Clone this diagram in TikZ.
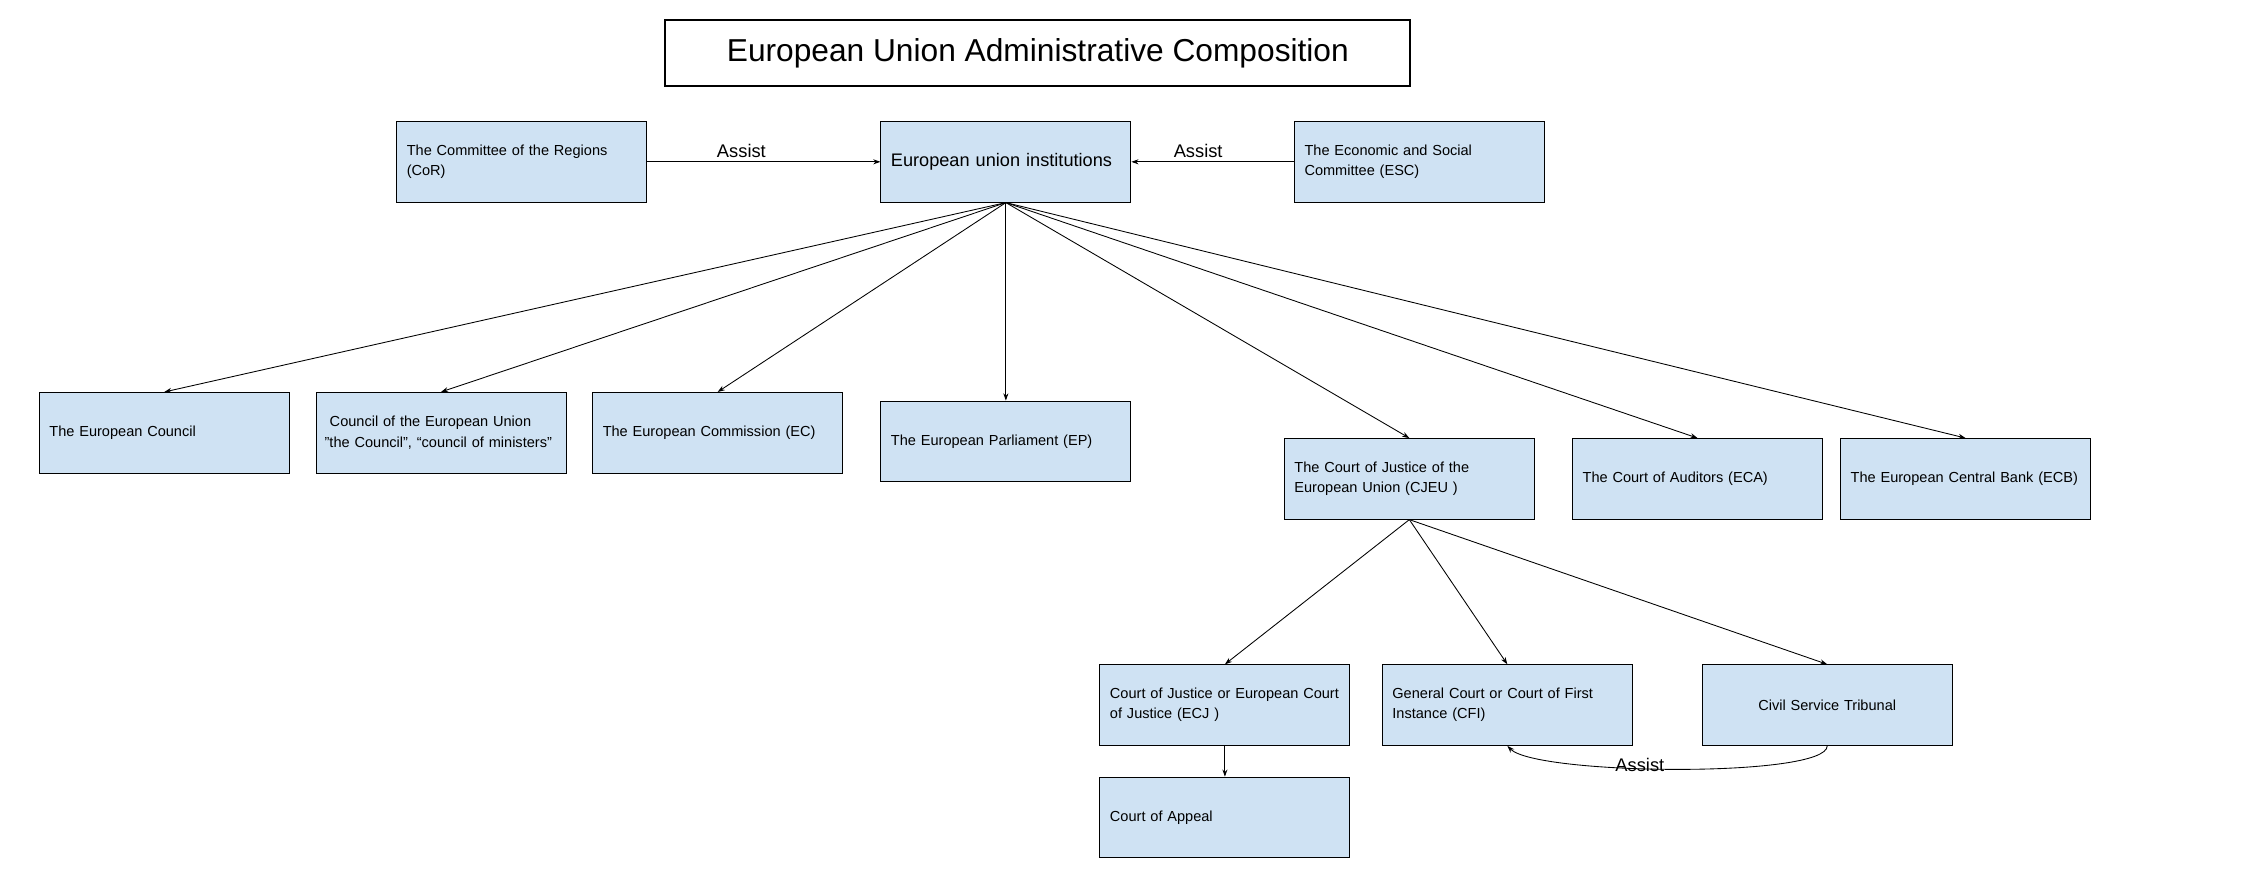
\documentclass[tikz,border=0pt]{standalone}
\usepackage{fontspec}
\setmainfont{Liberation Sans}
\usetikzlibrary{arrows.meta}
\definecolor{boxblue}{HTML}{CFE2F3}
\begin{document}
\begin{tikzpicture}[x=1pt,y=-1pt,
  box/.style={draw=black, line width=0.6pt, fill=boxblue, minimum width=173.5pt, minimum height=56pt,
    text width=159.5pt, inner xsep=7pt, inner ysep=0pt, align=left, anchor=north west,
    font=\fontsize{10.1pt}{14pt}\selectfont},
  conn/.style={-{Stealth[length=5pt,width=3.5pt]}, line width=0.6pt},
  lab/.style={font=\fontsize{12.7pt}{15pt}\selectfont, inner sep=0pt}]
\useasboundingbox[fill=white] (0,0) rectangle (1567,603.1);

\node[draw=black, line width=1.5pt, fill=white, minimum width=517pt, minimum height=46pt, anchor=north west,
  font=\fontsize{22pt}{26pt}\selectfont] (title) at (461,13) {European Union Administrative Composition};

\node[box] (cor) at (275,84) {The Committee of the Regions\\(CoR)};
\node[box, font=\fontsize{12.6pt}{15pt}\selectfont] (eui) at (611,84) {European union institutions};
\node[box] (esc) at (898,84) {The Economic and Social\\Committee (ESC)};

\node[box] (euc) at (27,272) {The European Council};
\node[box, inner xsep=6pt, text width=161.5pt] (coun) at (219,272) {\hspace{0.35em}Council of the European Union\\"the Council", “council of ministers”};
\node[box] (ec) at (411,272) {The European Commission (EC)};
\node[box] (ep) at (611,278) {The European Parliament (EP)};
\node[box] (cjeu) at (891,304) {The Court of Justice of the\\European Union (CJEU )};
\node[box] (eca) at (1091,304) {The Court of Auditors (ECA)};
\node[box] (ecb) at (1277,304) {The European Central Bank (ECB)};

\node[box] (ecj) at (763,461) {Court of Justice or European Court\\of Justice (ECJ )};
\node[box] (gc) at (959,461) {General Court or Court of First\\Instance (CFI)};
\node[box, align=center] (cst) at (1181,461) {Civil Service Tribunal};
\node[box] (app) at (763,539) {Court of Appeal};

\draw[conn] (cor.east) -- node[lab, pos=0.404, above=2.6pt] {Assist} (eui.west);
\draw[conn] (esc.west) -- node[lab, pos=0.589, above=2.6pt] {Assist} (eui.east);

\foreach \t in {euc,coun,ec,ep,cjeu,eca,ecb}
  \draw[conn] (eui.south) -- (\t.north);
\foreach \t in {ecj,gc,cst}
  \draw[conn] (cjeu.south) -- (\t.north);
\draw[conn] (ecj.south) -- (app.north);

\draw[conn] (cst.south) .. controls (1268,540) and (1066,538) .. (gc.south);
\node[lab] (asst) at (1138,531) {Assist};
\end{tikzpicture}
\end{document}
